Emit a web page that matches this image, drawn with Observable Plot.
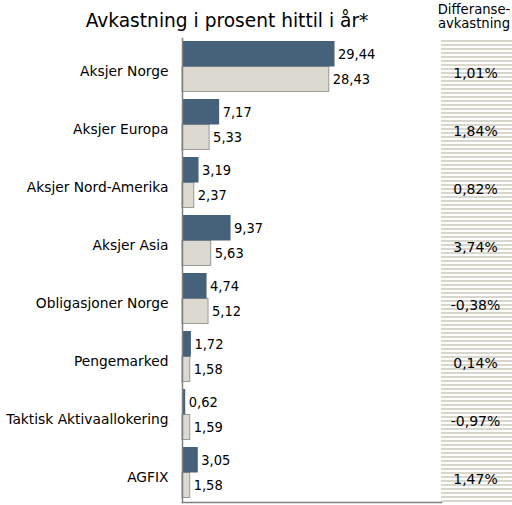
<!DOCTYPE html>
<html>
<head>
<meta charset="utf-8">
<script src="https://cdn.jsdelivr.net/npm/d3@7"></script>
<script src="https://cdn.jsdelivr.net/npm/@observablehq/plot@0.6"></script>
<style>
  html, body { margin: 0; padding: 0; background: #fff; }
  #wrap { position: relative; width: 512px; height: 505px; overflow: hidden; font-family: "DejaVu Sans", Verdana, sans-serif; color: #000; }
  #stripes { position: absolute; left: 441px; top: 40px; width: 71px; height: 463px;
    background: repeating-linear-gradient(to bottom, #d9d6ce 0px, #d9d6ce 2px, #ffffff 2px, #ffffff 4px); }
  #title { position: absolute; left: 0; width: 454px; top: 9px; text-align: center; font-size: 18.6px; line-height: 24px; white-space: nowrap; }
  #head { position: absolute; left: 428px; width: 92px; top: 3px; text-align: center; font-size: 13.2px; line-height: 14px; }
  #chart { position: absolute; left: 0; top: 0; }
</style>
</head>
<body>
<div id="wrap">
  <div id="stripes"></div>
  <div id="title">Avkastning i prosent hittil i år*</div>
  <div id="head">Differanse-<br>avkastning</div>
  <div id="chart"></div>
</div>
<script>
const categories = ["Aksjer Norge", "Aksjer Europa", "Aksjer Nord-Amerika", "Aksjer Asia", "Obligasjoner Norge", "Pengemarked", "Taktisk Aktivaallokering", "AGFIX"];
const portfolio = [29.44, 7.17, 3.19, 9.37, 4.74, 1.72, 0.62, 3.05];
const benchmark = [28.43, 5.33, 2.37, 5.63, 5.12, 1.58, 1.59, 1.58];
const difference = [1.01, 1.84, 0.82, 3.74, -0.38, 0.14, -0.97, 1.47];

const rows = categories.map((c, i) => ({category: c, portfolio: portfolio[i], benchmark: benchmark[i], diff: difference[i]}));
const fmt = v => v.toFixed(2).replace(".", ",");
const numFont = "'Liberation Sans Narrow', 'DejaVu Sans Condensed', 'Arial Narrow', sans-serif";
const half = 25.5;

const plot = Plot.plot({
  width: 512,
  height: 505,
  marginTop: 38,
  marginBottom: 3,
  marginLeft: 182,
  marginRight: 71,
  style: {background: "transparent", fontFamily: "'DejaVu Sans', Verdana, sans-serif"},
  x: {domain: [0, 50], axis: null},
  y: {domain: categories, type: "band", paddingInner: 0.12, paddingOuter: 0.06, label: null},
  marks: [
    Plot.barX(rows, {y: "category", x: "benchmark", fill: "#dcd9d1", stroke: "#9a9893", strokeWidth: 1, insetTop: half, insetRight: 0.5, insetBottom: 0.5}),
    Plot.barX(rows, {y: "category", x: "portfolio", fill: "#46617a", insetBottom: half}),
    Plot.text(rows, {y: "category", x: "portfolio", text: d => fmt(d.portfolio), textAnchor: "start", dx: 3, dy: -12.75, fontSize: 14.5, fontFamily: numFont, fill: "#000"}),
    Plot.text(rows, {y: "category", x: "benchmark", text: d => fmt(d.benchmark), textAnchor: "start", dx: 3, dy: 12.75, fontSize: 14.5, fontFamily: numFont, fill: "#000"}),
    Plot.text(rows, {y: "category", text: d => fmt(d.diff) + "%", frameAnchor: "right", textAnchor: "middle", dx: 34, dy: 7, fontSize: 14, fill: "#000"}),
    Plot.axisY({tickSize: 0, tickPadding: 14, fontSize: 13.8, dy: 4.5, label: null, fill: "#000"}),
    Plot.frame({anchor: "left", stroke: "#808080", strokeWidth: 1.5}),
    Plot.frame({anchor: "bottom", stroke: "#808080", strokeWidth: 1.5})
  ]
});
document.getElementById("chart").appendChild(plot);
</script>
</body>
</html>
